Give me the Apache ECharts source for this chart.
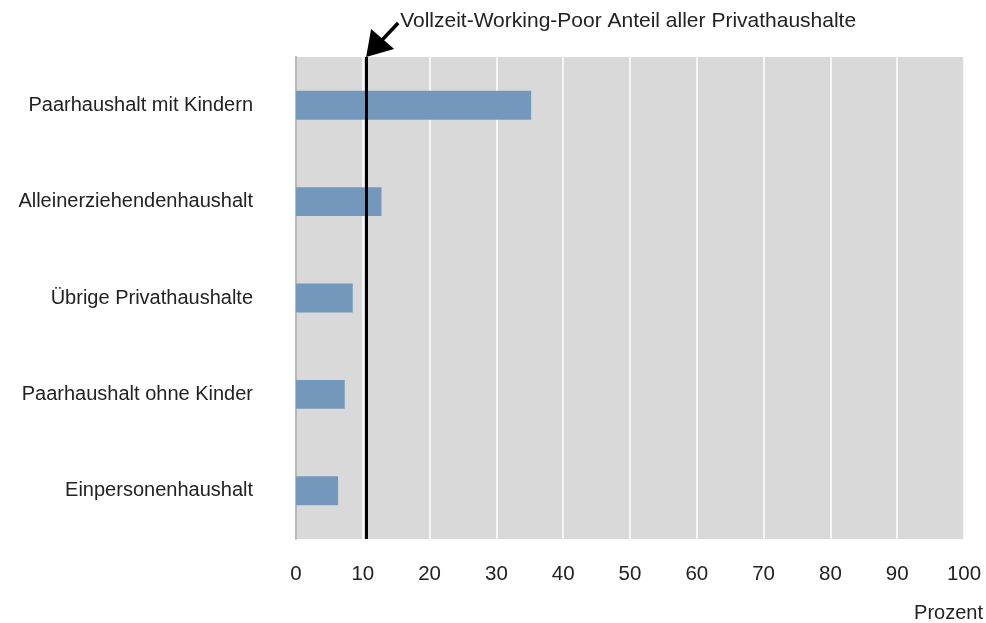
<!DOCTYPE html>
<html style="height: 100%">
<head>
    <meta charset="utf-8">
</head>
<body style="height: 100%; margin: 0; background: #fff">
    <div id="container" style="width: 986px; height: 623px"></div>
    <script type="text/javascript" src="https://cdn.jsdelivr.net/npm/echarts@6/dist/echarts.min.js"></script>
    <script type="text/javascript">
// Daten (von unten nach oben, wie in der Kategorieachse)
var categories = ['Einpersonenhaushalt', 'Paarhaushalt ohne Kinder', 'Übrige Privathaushalte', 'Alleinerziehendenhaushalt', 'Paarhaushalt mit Kindern'];
var values = [6.3, 7.3, 8.5, 12.8, 35.2];
var referenceValue = 10.5;
var referenceLabel = 'Vollzeit-Working-Poor Anteil aller Privathaushalte';
var xTicks = [0, 100, 10];   // min, max, interval

var font = 'Liberation Sans, Arial, sans-serif';
var dom = document.getElementById("container");
var myChart = echarts.init(dom);

var option = {
    backgroundColor: '#fff',
    animation: false,
    grid: {
        left: 296,
        right: 20,
        top: 57,
        bottom: 84
    },
    xAxis: {
        type: 'value',
        min: xTicks[0],
        max: xTicks[1],
        interval: xTicks[2],
        name: 'Prozent',
        nameLocation: 'end',
        nameGap: 0,
        nameTextStyle: {
            fontFamily: font,
            fontSize: 20,
            color: '#222',
            align: 'right',
            verticalAlign: 'top',
            padding: [64, -19, 0, 0]
        },
        axisLine: { show: false },
        axisTick: { show: false },
        axisLabel: {
            margin: 25,
            fontFamily: font,
            fontSize: 20.5,
            color: '#222'
        },
        splitLine: {
            show: true,
            lineStyle: { color: '#ffffff', width: 1.5 }
        },
        splitArea: {
            show: true,
            areaStyle: { color: ['#d9d9d9', '#d9d9d9'] }
        }
    },
    yAxis: {
        type: 'category',
        data: categories,
        axisLine: {
            show: true,
            lineStyle: { color: '#b8b8b8', width: 2 }
        },
        axisTick: { show: false },
        axisLabel: {
            margin: 43,
            fontFamily: font,
            fontSize: 20,
            color: '#222'
        }
    },
    series: [
        {
            type: 'bar',
            data: values,
            barWidth: '30%',
            itemStyle: { color: '#7498bb' },
            markLine: {
                silent: true,
                symbol: 'none',
                label: { show: false },
                lineStyle: { color: '#000', width: 3, type: 'solid' },
                data: [{ xAxis: referenceValue }]
            }
        }
    ]
};
myChart.setOption(option, true);

// Pfeil + Beschriftung oberhalb der Referenzlinie
var tipX = myChart.convertToPixel({ xAxisIndex: 0 }, referenceValue);
var tipY = 57;
myChart.setOption({
    graphic: [
        {
            type: 'line',
            shape: { x1: tipX + 15, y1: tipY - 16, x2: tipX + 32, y2: tipY - 34 },
            style: { stroke: '#000', lineWidth: 3.5 }
        },
        {
            type: 'polygon',
            shape: { points: [[tipX, tipY], [tipX + 5, tipY - 28], [tipX + 28, tipY - 8]] },
            style: { fill: '#000' }
        },
        {
            type: 'text',
            left: tipX + 34,
            top: 11,
            style: {
                text: referenceLabel,
                font: '21px ' + font,
                fill: '#222'
            }
        }
    ]
});
</script>
</body>
</html>
